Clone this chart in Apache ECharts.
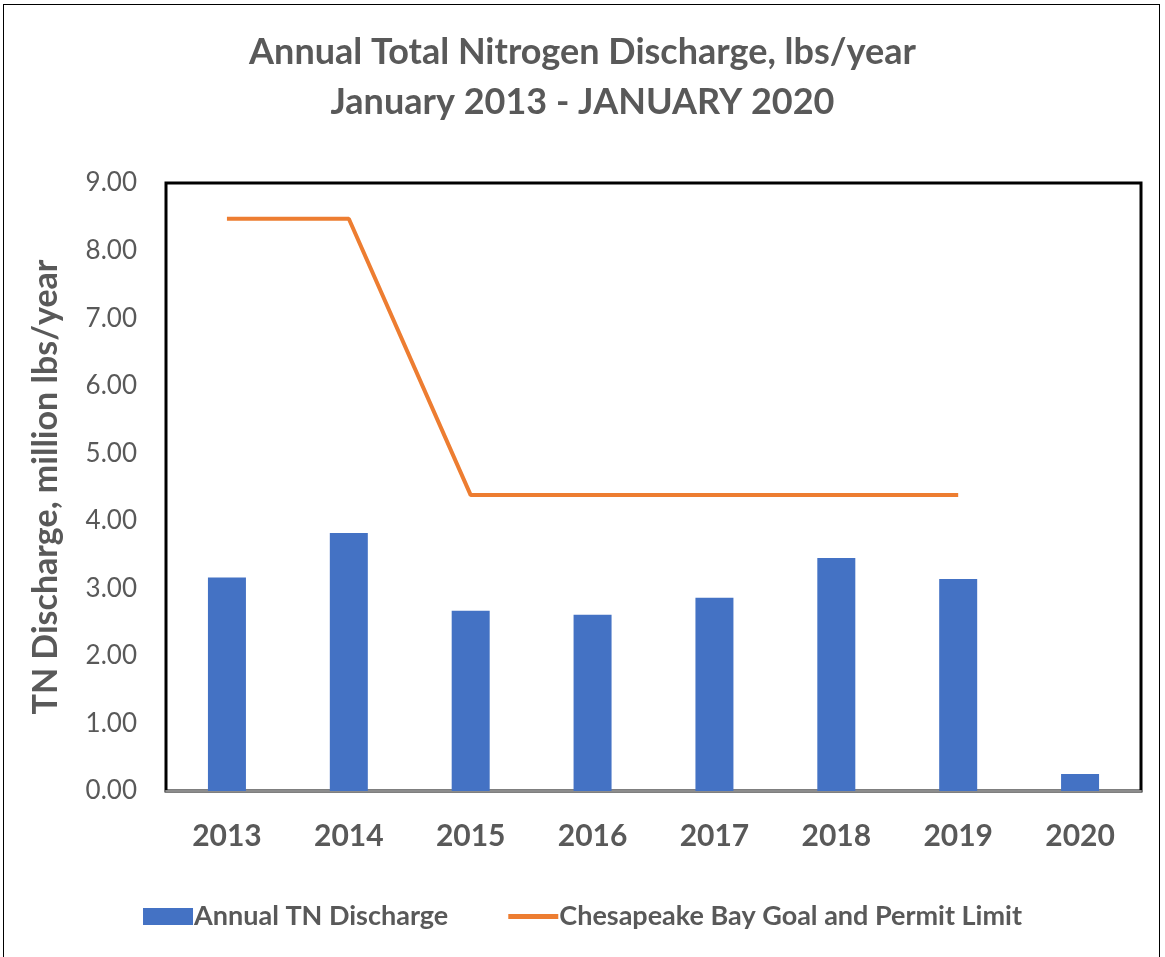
<!DOCTYPE html>
<html>
<head>
<meta charset="utf-8">
<script src="https://cdn.jsdelivr.net/npm/echarts@6/dist/echarts.min.js"></script>
<style>
  html, body { margin: 0; padding: 0; background: #fff; }
  #frame { position: absolute; left: 3px; top: 4px; width: 1157px; height: 960px; border: 1px solid #000; box-sizing: border-box; }
  #chart { position: absolute; left: 0; top: 0; width: 1165px; height: 957px; }
</style>
</head>
<body>
<div id="frame"></div>
<div id="chart"></div>
<script>
const years = ['2013', '2014', '2015', '2016', '2017', '2018', '2019', '2020']
const annualTN = [3.16, 3.82, 2.67, 2.61, 2.86, 3.45, 3.14, 0.25]
const permitLimit = [8.47, 8.47, 4.38, 4.38, 4.38, 4.38, 4.38, null]

const font = 'Lato, "Open Sans", sans-serif'
const grey = '#595959'

const chart = echarts.init(document.getElementById('chart'))

chart.setOption({
  animation: false,
  textStyle: { fontFamily: font },
  title: {
    text: 'Annual Total Nitrogen Discharge, lbs/year\nJanuary 2013 - JANUARY 2020',
    left: 'center',
    top: 22,
    textStyle: { fontFamily: font, fontSize: 36, fontWeight: 'bold', color: grey, lineHeight: 50 }
  },
  legend: {
    bottom: 22,
    left: 'center',
    itemGap: 60,
    itemWidth: 50,
    itemHeight: 17,
    textStyle: { fontFamily: font, fontSize: 27, fontWeight: 'bold', color: grey, padding: [0, 0, 0, -4] },
    data: [
      { name: 'Annual TN Discharge', icon: 'rect' },
      { name: 'Chesapeake Bay Goal and Permit Limit', icon: 'path://M0,0 L50,0 L50,5 L0,5 Z' }
    ]
  },
  grid: {
    left: 166,
    right: 24,
    top: 183,
    bottom: 166,
    show: true,
    borderColor: '#000',
    borderWidth: 3,
    backgroundColor: 'transparent'
  },
  xAxis: {
    type: 'category',
    data: years,
    axisLine: { lineStyle: { color: '#8c8c8c', width: 2 } },
    axisTick: { show: false },
    axisLabel: { fontFamily: font, fontSize: 30, fontWeight: 'bold', color: grey, margin: 30 }
  },
  yAxis: {
    type: 'value',
    min: 0,
    max: 9,
    interval: 1,
    name: 'TN Discharge, million lbs/year',
    nameLocation: 'middle',
    nameGap: 103,
    nameTextStyle: { fontFamily: font, fontSize: 34, fontWeight: 'bold', color: grey },
    axisLine: { show: false },
    axisTick: { show: false },
    splitLine: { show: false },
    axisLabel: {
      fontFamily: font, fontSize: 26, color: grey, margin: 29,
      formatter: v => v.toFixed(2)
    }
  },
  series: [
    {
      name: 'Annual TN Discharge',
      type: 'bar',
      data: annualTN,
      barWidth: 38,
      itemStyle: { color: '#4472C4' }
    },
    {
      name: 'Chesapeake Bay Goal and Permit Limit',
      type: 'line',
      data: permitLimit,
      showSymbol: false,
      symbol: 'none',
      lineStyle: { color: '#ED7D31', width: 4 },
      itemStyle: { color: '#ED7D31' }
    }
  ]
})
</script>
</body>
</html>
